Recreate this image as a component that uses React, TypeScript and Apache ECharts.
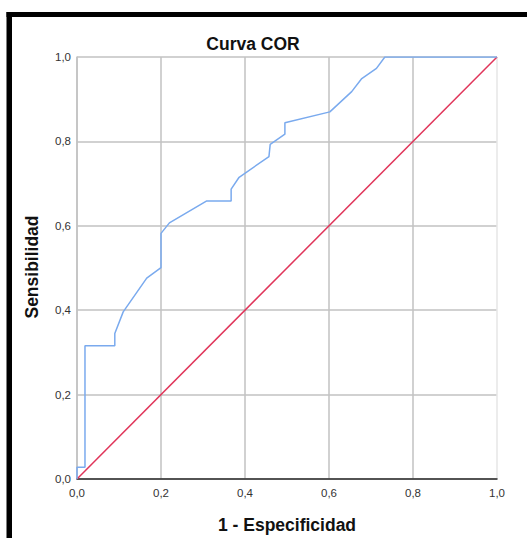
import React, { useEffect, useRef } from "react";
import * as echarts from "echarts";

// ROC curve coordinates: 1 - specificity (x) and sensitivity (y)
const fpr = [0, 0, 0.019, 0.019, 0.09, 0.09, 0.11, 0.166, 0.2, 0.2, 0.22, 0.309, 0.367, 0.367, 0.386, 0.457, 0.46, 0.495, 0.495, 0.602, 0.654, 0.678, 0.713, 0.733, 1];
const tpr = [0, 0.028, 0.028, 0.316, 0.316, 0.345, 0.396, 0.476, 0.501, 0.582, 0.607, 0.659, 0.659, 0.687, 0.715, 0.764, 0.793, 0.817, 0.844, 0.87, 0.918, 0.949, 0.973, 1, 1];

// Chance diagonal
const refX = [0, 1];
const refY = [0, 1];

const axisTicks = [0, 0.2, 0.4, 0.6, 0.8, 1];
const titleText = "Curva COR";
const xTitle = "1 - Especificidad";
const yTitle = "Sensibilidad";

const FONT = "'Liberation Sans', Arial, Helvetica, sans-serif";
const fmt = (v: number) => v.toFixed(1).replace(".", ",");

export default function App() {
  const ref = useRef<HTMLDivElement>(null);

  useEffect(() => {
    if (!ref.current) return;
    const chart = echarts.init(ref.current, null, { renderer: "svg" });
    const gridColors = axisTicks.map((_, i) => (i === axisTicks.length - 1 ? "#e6e6e6" : "#c2c2c2"));

    chart.setOption({
      animation: false,
      backgroundColor: "#ffffff",
      grid: { left: 77, right: 30, top: 57, bottom: 59, containLabel: false },
      xAxis: {
        type: "value",
        min: axisTicks[0],
        max: axisTicks[axisTicks.length - 1],
        interval: 0.2,
        axisLine: { show: true, onZero: false, lineStyle: { color: "#2a2a2a", width: 1.5 } },
        axisTick: { show: false },
        axisLabel: { formatter: fmt, color: "#333", fontSize: 11.5, fontFamily: FONT, margin: 8 },
        splitLine: { show: true, lineStyle: { color: gridColors, width: 1.5 } },
      },
      yAxis: {
        type: "value",
        min: axisTicks[0],
        max: axisTicks[axisTicks.length - 1],
        interval: 0.2,
        axisLine: { show: true, onZero: false, lineStyle: { color: "#c2c2c2", width: 1.5 } },
        axisTick: { show: false },
        axisLabel: { formatter: fmt, color: "#333", fontSize: 11.5, fontFamily: FONT, margin: 6 },
        splitLine: { show: true, lineStyle: { color: "#c2c2c2", width: 1.5 } },
      },
      series: [
        {
          type: "line",
          data: refX.map((x, i) => [x, refY[i]]),
          showSymbol: false,
          lineStyle: { color: "#e0355a", width: 1.5 },
          z: 2,
        },
        {
          type: "line",
          data: fpr.map((x, i) => [x, tpr[i]]),
          showSymbol: false,
          lineStyle: { color: "#7aaaee", width: 1.5 },
          z: 3,
        },
      ],
      graphic: [
        { type: "rect", shape: { x: 6.5, y: 12, width: 5.5, height: 540 }, style: { fill: "#000" }, silent: true },
        { type: "rect", shape: { x: 6.5, y: 12, width: 530, height: 5 }, style: { fill: "#000" }, silent: true },
        {
          type: "text",
          x: 253,
          y: 44,
          style: { text: titleText, font: `bold 17.5px ${FONT}`, fill: "#111", align: "center", verticalAlign: "middle" },
        },
        {
          type: "text",
          x: 287,
          y: 525,
          style: { text: xTitle, font: `bold 17.5px ${FONT}`, fill: "#111", align: "center", verticalAlign: "middle" },
        },
        {
          type: "text",
          x: 32,
          y: 267,
          rotation: Math.PI / 2,
          style: { text: yTitle, font: `bold 17.5px ${FONT}`, fill: "#111", align: "center", verticalAlign: "middle" },
        },
      ],
    });

    return () => chart.dispose();
  }, []);

  return (
    <div
      ref={ref}
      style={{ position: "absolute", left: 0, top: 0, width: 527, height: 538 }}
    />
  );
}
